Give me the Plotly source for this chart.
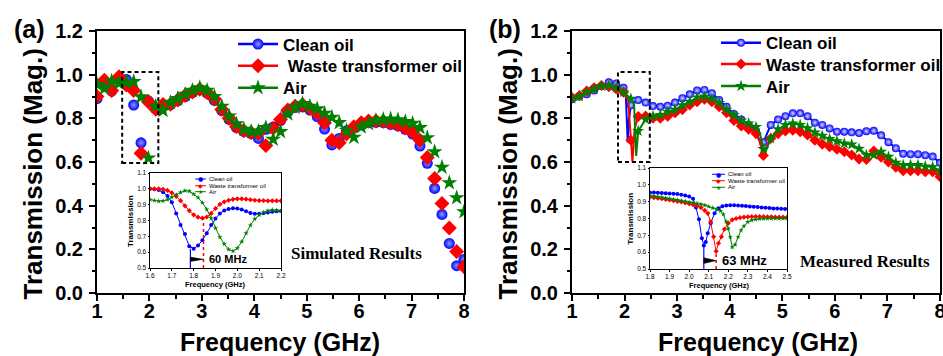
import numpy as np
import plotly.graph_objects as go

W, H = 943, 356
FONT = "Liberation Sans, Arial, sans-serif"
SERIF = "Liberation Serif, Times New Roman, serif"
BLUE, RED, GREEN = "#0000FF", "#FF0000", "#008000"


def px(x):
    return x / W


def py(y):
    return 1 - y / H


# ---------------- data ----------------
# marker frequency grid (GHz), 51 points from 1 to 8 GHz
freq = np.round(np.linspace(1.0, 8.0, 51), 2)

# (a) simulated transmission magnitude
sim_clean = [0.89, 0.96, 0.925, 0.975, 0.978, 0.861, 0.688, 0.88, 0.845, 0.862,
             0.862, 0.88, 0.90, 0.918, 0.93, 0.915, 0.882, 0.835, 0.795, 0.758,
             0.74, 0.73, 0.708, 0.75, 0.76, 0.79, 0.83, 0.85, 0.852, 0.838,
             0.808, 0.751, 0.678, 0.708, 0.743, 0.758, 0.772, 0.78, 0.782, 0.78,
             0.772, 0.765, 0.75, 0.728, 0.673, 0.594, 0.479, 0.36, 0.227, 0.125, 0.154]
sim_waste = [0.90, 0.975, 0.927, 0.99, 0.953, 0.927, 0.64, 0.876, 0.842, 0.864,
             0.864, 0.884, 0.905, 0.92, 0.933, 0.918, 0.888, 0.841, 0.80, 0.762,
             0.743, 0.734, 0.732, 0.675, 0.754, 0.795, 0.838, 0.856, 0.862, 0.846,
             0.823, 0.78, 0.70, 0.688, 0.728, 0.762, 0.78, 0.788, 0.788, 0.786,
             0.778, 0.772, 0.756, 0.736, 0.70, 0.621, 0.524, 0.41, 0.298, 0.19, 0.12]
sim_air = [0.955, 0.937, 0.97, 0.96, 0.965, 0.968, 0.898, 0.618, 0.856, 0.836,
           0.873, 0.89, 0.91, 0.928, 0.94, 0.928, 0.90, 0.855, 0.81, 0.775,
           0.75, 0.74, 0.74, 0.757, 0.704, 0.739, 0.82, 0.85, 0.868, 0.855,
           0.843, 0.823, 0.805, 0.78, 0.745, 0.713, 0.76, 0.775, 0.79, 0.795,
           0.797, 0.793, 0.785, 0.777, 0.757, 0.711, 0.647, 0.576, 0.505, 0.436, 0.372]

# (b) measured transmission magnitude at the marker grid
meas_clean = [0.887, 0.90, 0.91, 0.927, 0.948, 0.965, 0.96, 0.94, 0.86, 0.884,
              0.872, 0.856, 0.853, 0.858, 0.872, 0.892, 0.91, 0.927, 0.93, 0.915,
              0.884, 0.853, 0.82, 0.795, 0.77, 0.743, 0.69, 0.77, 0.795, 0.81,
              0.823, 0.823, 0.81, 0.78, 0.77, 0.754, 0.739, 0.739, 0.736, 0.733,
              0.741, 0.743, 0.722, 0.691, 0.663, 0.638, 0.636, 0.636, 0.631, 0.625, 0.596]
meas_waste = [0.895, 0.905, 0.925, 0.94, 0.95, 0.945, 0.935, 0.92, 0.70, 0.808,
              0.81, 0.80, 0.80, 0.81, 0.826, 0.84, 0.861, 0.876, 0.887, 0.876,
              0.853, 0.826, 0.79, 0.765, 0.75, 0.73, 0.63, 0.708, 0.73, 0.742,
              0.746, 0.739, 0.724, 0.70, 0.682, 0.67, 0.658, 0.647, 0.632, 0.614,
              0.612, 0.65, 0.622, 0.60, 0.576, 0.56, 0.56, 0.56, 0.555, 0.555, 0.533]
meas_air = [0.89, 0.90, 0.92, 0.935, 0.948, 0.95, 0.94, 0.92, 0.89, 0.742,
            0.795, 0.81, 0.815, 0.83, 0.84, 0.86, 0.876, 0.896, 0.90, 0.89,
            0.87, 0.84, 0.815, 0.79, 0.777, 0.76, 0.66, 0.708, 0.75, 0.77,
            0.776, 0.77, 0.755, 0.735, 0.72, 0.705, 0.695, 0.685, 0.68, 0.661,
            0.632, 0.632, 0.647, 0.624, 0.597, 0.586, 0.586, 0.586, 0.58, 0.577, 0.56]

# (b) extra sweep points inside the narrow resonances (line only)
meas_clean_res_f = [2.02, 2.05, 2.06, 2.08, 4.60, 4.71]
meas_clean_res_t = [0.925, 0.75, 0.69, 0.79, 0.675, 0.73]
meas_waste_res_f = [2.07, 2.15, 2.19, 4.57, 4.70]
meas_waste_res_t = [0.88, 0.60, 0.75, 0.693, 0.67]
meas_air_res_f = [2.18, 2.22, 4.57, 4.68]
meas_air_res_t = [0.87, 0.628, 0.735, 0.645]

# inset (a): simulated first resonance, 1.6-2.2 GHz
inset_a_freq = np.round(np.linspace(1.6, 2.2, 31), 2)
inset_a_clean = [1.0, 0.998, 0.992, 0.978, 0.955, 0.915, 0.845, 0.772, 0.715, 0.638,
                 0.622, 0.642, 0.675, 0.72, 0.772, 0.812, 0.845, 0.863, 0.873, 0.877,
                 0.876, 0.869, 0.858, 0.848, 0.842, 0.842, 0.846, 0.851, 0.855, 0.858, 0.86]
inset_a_waste = [1.0, 1.0, 1.0, 0.997, 0.99, 0.975, 0.953, 0.925, 0.893, 0.862,
                 0.836, 0.821, 0.815, 0.822, 0.845, 0.876, 0.902, 0.918, 0.928, 0.934,
                 0.937, 0.937, 0.935, 0.931, 0.928, 0.926, 0.925, 0.924, 0.924, 0.924, 0.924]
inset_a_air = [0.932, 0.926, 0.922, 0.924, 0.932, 0.947, 0.963, 0.977, 0.988, 0.985,
               0.967, 0.945, 0.912, 0.87, 0.815, 0.752, 0.695, 0.652, 0.618, 0.607,
               0.625, 0.666, 0.72, 0.77, 0.81, 0.835, 0.852, 0.862, 0.867, 0.865, 0.86]

# inset (b): measured first resonance, 1.8-2.5 GHz
inset_b_clean_f = [1.80, 1.82, 1.84, 1.86, 1.88, 1.90, 1.92, 1.94, 1.96, 1.98, 2.00, 2.02,
                   2.035, 2.05, 2.065, 2.075, 2.085, 2.095, 2.11, 2.13, 2.15, 2.17, 2.19,
                   2.21, 2.23, 2.25, 2.27, 2.29, 2.31, 2.33, 2.35, 2.37, 2.39, 2.41, 2.43,
                   2.45, 2.47, 2.49]
inset_b_clean_t = [0.955, 0.955, 0.953, 0.952, 0.95, 0.949, 0.947, 0.945, 0.941, 0.937,
                   0.93, 0.918, 0.865, 0.795, 0.683, 0.64, 0.66, 0.712, 0.772, 0.831,
                   0.861, 0.873, 0.877, 0.878, 0.878, 0.877, 0.876, 0.874, 0.872, 0.87,
                   0.868, 0.866, 0.864, 0.862, 0.86, 0.859, 0.858, 0.857]
inset_b_waste_f = [1.80, 1.82, 1.84, 1.86, 1.88, 1.90, 1.92, 1.94, 1.96, 1.98, 2.00, 2.02,
                   2.04, 2.06, 2.08, 2.095, 2.11, 2.125, 2.138, 2.15, 2.165, 2.18, 2.20,
                   2.22, 2.24, 2.26, 2.28, 2.30, 2.32, 2.34, 2.36, 2.38, 2.40, 2.42, 2.44,
                   2.46, 2.48, 2.50]
inset_b_waste_t = [0.927, 0.924, 0.921, 0.918, 0.914, 0.91, 0.906, 0.902, 0.898, 0.893,
                   0.888, 0.882, 0.875, 0.865, 0.848, 0.831, 0.78, 0.692, 0.605, 0.653,
                   0.692, 0.736, 0.772, 0.792, 0.80, 0.805, 0.808, 0.81, 0.811, 0.812,
                   0.812, 0.811, 0.81, 0.81, 0.809, 0.808, 0.808, 0.807]
inset_b_air_f = [1.80, 1.82, 1.84, 1.86, 1.88, 1.90, 1.92, 1.94, 1.96, 1.98, 2.00, 2.02,
                 2.04, 2.06, 2.08, 2.10, 2.12, 2.14, 2.16, 2.175, 2.19, 2.20, 2.21, 2.22,
                 2.235, 2.25, 2.265, 2.28, 2.30, 2.32, 2.34, 2.36, 2.38, 2.40, 2.42, 2.44,
                 2.46, 2.48, 2.50]
inset_b_air_t = [0.936, 0.933, 0.93, 0.926, 0.922, 0.918, 0.914, 0.91, 0.906, 0.902,
                 0.898, 0.894, 0.89, 0.885, 0.879, 0.871, 0.863, 0.855, 0.845, 0.825,
                 0.781, 0.74, 0.69, 0.629, 0.645, 0.69, 0.73, 0.755, 0.78, 0.79,
                 0.795, 0.798, 0.799, 0.80, 0.80, 0.80, 0.80, 0.80, 0.80]

# resonance shift between clean and waste oil (MHz)
res_clean_a, shift_a_mhz = 1.785, 60
res_clean_b, shift_b_mhz = 2.075, 63

# zoomed regions marked on the main panels: (f0, f1, t0, t1)
zoom_box_a = (1.48, 2.17, 0.595, 1.012)
zoom_box_b = (1.875, 2.48, 0.60, 1.012)

series_names = ["Clean oil", "\u00a0Waste transformer oil", "Air"]
series_names_b = ["Clean oil", "Waste transformer oil", "Air"]

# ---------------- figure ----------------
fig = go.Figure()

sphere_a = dict(symbol="circle", size=11, color=BLUE,
                gradient=dict(type="radial", color="#8c9cff"), line=dict(width=0))
diamond_a = dict(symbol="diamond", size=11.5, color=RED, line=dict(width=0))
star_a = dict(symbol="star", size=12, color=GREEN, line=dict(width=0))
markers_a = [sphere_a, diamond_a, star_a]
colors = [BLUE, RED, GREEN]

for vals, mk in zip([sim_clean, sim_waste, sim_air], markers_a):
    fig.add_trace(go.Scatter(x=freq, y=vals, mode="markers", marker=mk,
                             showlegend=False, xaxis="x", yaxis="y"))

# panel (b): continuous line through all sweep points, markers on the grid
sphere_b = dict(symbol="circle", size=8, color=BLUE,
                gradient=dict(type="radial", color="#d8deff"), line=dict(width=0))
diamond_b = dict(symbol="diamond", size=8.5, color=RED, line=dict(width=0))
star_b = dict(symbol="star", size=9, color=GREEN, line=dict(width=0))
markers_b = [sphere_b, diamond_b, star_b]

meas_sets = [(meas_clean, meas_clean_res_f, meas_clean_res_t),
             (meas_waste, meas_waste_res_f, meas_waste_res_t),
             (meas_air, meas_air_res_f, meas_air_res_t)]
for (vals, rf, rt), mk, col in zip(meas_sets, markers_b, colors):
    pts = sorted(zip(list(freq) + rf, list(vals) + rt))
    fig.add_trace(go.Scatter(x=[p[0] for p in pts], y=[p[1] for p in pts], mode="lines",
                             line=dict(color=col, width=2), showlegend=False,
                             xaxis="x2", yaxis="y2"))
    fig.add_trace(go.Scatter(x=freq, y=vals, mode="markers", marker=mk,
                             showlegend=False, xaxis="x2", yaxis="y2"))

# legend entries (one legend per entry so each row can be placed freely)
for i, (nm, mk, col) in enumerate(zip(series_names, markers_a, colors)):
    fig.add_trace(go.Scatter(x=[None], y=[None], mode="lines+markers", name=nm,
                             line=dict(color=col, width=2.5), marker=mk,
                             legend="legend" if i == 0 else f"legend{i + 1}",
                             xaxis="x", yaxis="y"))
for i, (nm, mk, col) in enumerate(zip(series_names_b, markers_b, colors)):
    fig.add_trace(go.Scatter(x=[None], y=[None], mode="lines+markers", name=nm,
                             line=dict(color=col, width=2.5), marker=mk,
                             legend=f"legend{i + 4}", xaxis="x2", yaxis="y2"))

# insets
inset_syms = ["circle", "diamond", "star"]
for vals, sym, col in zip([inset_a_clean, inset_a_waste, inset_a_air], inset_syms, colors):
    fig.add_trace(go.Scatter(x=inset_a_freq, y=vals, mode="lines+markers",
                             line=dict(color=col, width=1),
                             marker=dict(symbol=sym, size=4, color=col, line=dict(width=0)),
                             showlegend=False, xaxis="x3", yaxis="y3"))
inset_b_sets = [(inset_b_clean_f, inset_b_clean_t), (inset_b_waste_f, inset_b_waste_t),
                (inset_b_air_f, inset_b_air_t)]
for (fx, ty), sym, col in zip(inset_b_sets, inset_syms, colors):
    fig.add_trace(go.Scatter(x=fx, y=ty, mode="lines+markers",
                             line=dict(color=col, width=1),
                             marker=dict(symbol=sym, size=4, color=col, line=dict(width=0)),
                             showlegend=False, xaxis="x4", yaxis="y4"))

# ---------------- axes ----------------
tickfont_main = dict(family=FONT, size=20, color="black", weight="bold")


def main_axis(rng, dtick, minor, fmt=None, standoff=2):
    d = dict(range=rng, dtick=dtick, tick0=rng[0], ticks="outside", ticklen=6, tickwidth=2,
             tickcolor="black", showline=True, linewidth=2, linecolor="black", mirror=True,
             showgrid=False, zeroline=False, tickfont=tickfont_main,
             ticklabelstandoff=standoff, automargin=False, ticklabeloverflow="allow",
             minor=dict(dtick=minor, ticks="outside", ticklen=3.5, tickwidth=1.5,
                        tickcolor="black", showgrid=False))
    if fmt:
        d["tickformat"] = fmt
    return d


def inset_axis(rng, fmt=".1f"):
    return dict(range=rng, dtick=0.1, tick0=rng[0], tickformat=fmt, ticks="outside",
                ticklen=1.5, tickwidth=1, tickcolor="black", showline=True, linewidth=1,
                linecolor="black", mirror=True, showgrid=False, zeroline=False,
                automargin=False,
                tickfont=dict(family=FONT, size=6.5, color="black"), ticklabelstandoff=0)


dom_ax = [px(97), px(464)]
dom_bx = [px(572), px(940)]
dom_y = [py(293), py(31)]

fig.update_layout(
    width=W, height=H, margin=dict(l=0, r=0, t=0, b=0, autoexpand=False),
    paper_bgcolor="white", plot_bgcolor="white",
    xaxis=dict(domain=dom_ax, anchor="y", **main_axis([1, 8], 1, 0.5, standoff=-7)),
    yaxis=dict(domain=dom_y, anchor="x", **main_axis([0, 1.2], 0.2, 0.1, ".1f")),
    xaxis2=dict(domain=dom_bx, anchor="y2", **main_axis([1, 8], 1, 0.5, standoff=-7)),
    yaxis2=dict(domain=dom_y, anchor="x2", **main_axis([0, 1.2], 0.2, 0.1, ".1f")),
    xaxis3=dict(domain=[px(150), px(281)], anchor="y3", **inset_axis([1.6, 2.2])),
    yaxis3=dict(domain=[py(268), py(173)], anchor="x3", **inset_axis([0.5, 1.1])),
    xaxis4=dict(domain=[px(650), px(787)], anchor="y4", **inset_axis([1.8, 2.5])),
    yaxis4=dict(domain=[py(269), py(168)], anchor="x4", **inset_axis([0.5, 1.1])),
)


def legend_at(x_left, y_top):
    return dict(x=px(x_left), y=py(y_top), xanchor="left", yanchor="top",
                bgcolor="rgba(0,0,0,0)", borderwidth=0, itemwidth=40,
                font=dict(family=FONT, size=17, color="black", weight="bold"))


fig.update_layout(
    legend=legend_at(233, 26.5), legend2=legend_at(233, 48.2), legend3=legend_at(233, 70.2),
    legend4=legend_at(716, 25.2), legend5=legend_at(716, 46.5), legend6=legend_at(716, 68.5),
)

# ---------------- shapes ----------------
shapes = []
for box, xr, yr in [(zoom_box_a, "x", "y"), (zoom_box_b, "x2", "y2")]:
    shapes.append(dict(type="rect", xref=xr, yref=yr, x0=box[0], x1=box[1], y0=box[2],
                       y1=box[3], line=dict(color="black", width=2, dash="4px,3px")))

# resonance markers and shift arrows in the insets
for xr, yr, f_clean, shift, c_vals, w_vals, y_arrow, half in [
        ("x3", "y3", res_clean_a, shift_a_mhz, inset_a_clean, inset_a_waste, 0.555, 0.014),
        ("x4", "y4", res_clean_b, shift_b_mhz, inset_b_clean_t, inset_b_waste_t, 0.55, 0.017)]:
    f_waste = f_clean + shift / 1000
    shapes.append(dict(type="line", xref=xr, yref=yr, x0=f_clean, x1=f_clean, y0=0.5,
                       y1=min(c_vals), line=dict(color=BLUE, width=1.2)))
    shapes.append(dict(type="line", xref=xr, yref=yr, x0=f_waste, x1=f_waste, y0=0.5,
                       y1=min(w_vals), line=dict(color=RED, width=1.5, dash="dot")))
    shapes.append(dict(type="path", xref=xr, yref=yr, fillcolor="black",
                       line=dict(color="black", width=0.5),
                       path=f"M{f_clean},{y_arrow - half} L{f_clean},{y_arrow + half} "
                            f"L{f_waste},{y_arrow} Z"))

annotations = []
for xr, yr, f_clean, shift, y_arrow, fs in [("x3", "y3", res_clean_a, shift_a_mhz, 0.555, 11),
                                            ("x4", "y4", res_clean_b, shift_b_mhz, 0.55, 13)]:
    annotations.append(dict(xref=xr, yref=yr, x=f_clean + shift / 1000, y=y_arrow,
                            text=f"{shift} MHz", showarrow=False, xanchor="left",
                            yanchor="middle", xshift=4,
                            font=dict(family=FONT, size=fs, color="black", weight="bold")))

# inset legends
glyphs = ["\u25cf", "\u25c6", "\u2605"]
inset_names = ["Clean oil", "Waste transformer oil", "Air"]
for xd, yd, l0, l1, ty in [("x3 domain", "y3 domain", 0.344, 0.427, [0.937, 0.866, 0.803]),
                           ("x4 domain", "y4 domain", 0.453, 0.547, [0.938, 0.874, 0.809])]:
    for nm, g, col, yy in zip(inset_names, glyphs, colors, ty):
        shapes.append(dict(type="line", xref=xd, yref=yd, x0=l0, x1=l1, y0=yy, y1=yy,
                           line=dict(color=col, width=1)))
        annotations.append(dict(xref=xd, yref=yd, x=(l0 + l1) / 2, y=yy, text=g,
                                showarrow=False, xanchor="center", yanchor="middle",
                                font=dict(family="DejaVu Sans", size=6, color=col)))
        annotations.append(dict(xref=xd, yref=yd, x=l1, y=yy, text=nm, showarrow=False,
                                xanchor="left", yanchor="middle", xshift=1,
                                font=dict(family=FONT, size=6, color="black")))

# axis titles, panel tags and captions
bold = dict(color="black", weight="bold")
for cx in (32.5, 507.5):
    annotations.append(dict(xref="paper", yref="paper", x=px(cx), y=py(174),
                            text="Transmission (Mag.)", textangle=-90, showarrow=False,
                            xanchor="center", yanchor="middle",
                            font=dict(family=FONT, size=26, **bold)))
for cx in (280, 757.5):
    annotations.append(dict(xref="paper", yref="paper", x=px(cx), y=py(342),
                            text="Frequency (GHz)", showarrow=False,
                            xanchor="center", yanchor="middle",
                            font=dict(family=FONT, size=25, **bold)))
for cx, tag in ((30, "(a)"), (505, "(b)")):
    annotations.append(dict(xref="paper", yref="paper", x=px(cx), y=py(29), text=tag,
                            showarrow=False, xanchor="center", yanchor="middle",
                            font=dict(family=FONT, size=25, **bold)))
for cx, cy, txt in ((356, 253.5, "Simulated Results"), (864.5, 261, "Measured Results")):
    annotations.append(dict(xref="paper", yref="paper", x=px(cx), y=py(cy), text=txt,
                            showarrow=False, xanchor="center", yanchor="middle",
                            font=dict(family=SERIF, size=17, **bold)))
# inset axis titles
for cx, cy in ((130, 221), (630, 218.5)):
    annotations.append(dict(xref="paper", yref="paper", x=px(cx), y=py(cy),
                            text="Transmission", textangle=-90, showarrow=False,
                            xanchor="center", yanchor="middle",
                            font=dict(family=FONT, size=8, **bold)))
for cx, cy in ((215.5, 284.5), (719, 285.5)):
    annotations.append(dict(xref="paper", yref="paper", x=px(cx), y=py(cy),
                            text="Frequency (GHz)", showarrow=False,
                            xanchor="center", yanchor="middle",
                            font=dict(family=FONT, size=7.5, **bold)))

fig.update_layout(shapes=shapes, annotations=annotations)
fig.write_html("out.html")
